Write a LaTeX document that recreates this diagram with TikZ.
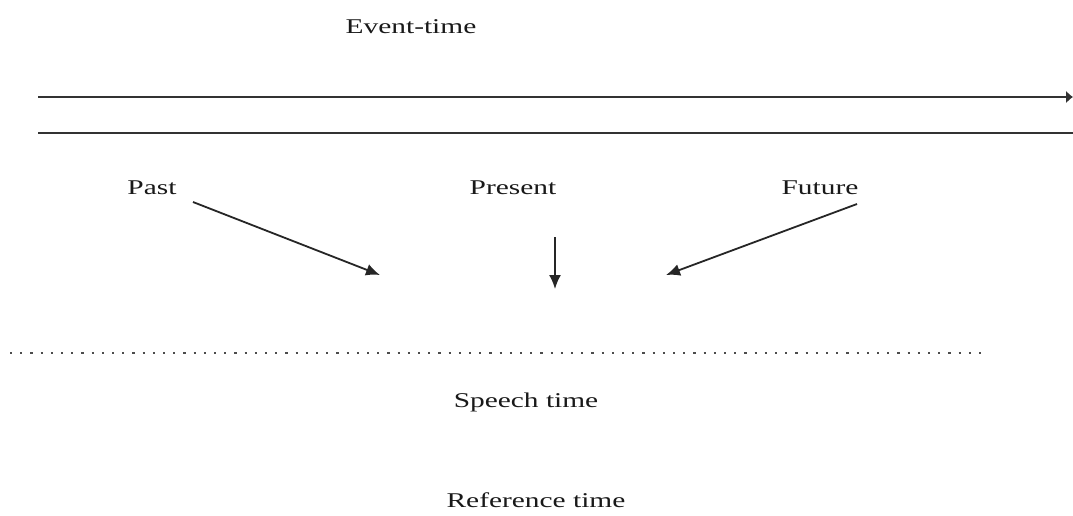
\documentclass[tikz,border=0pt]{standalone}
\usepackage{fontspec}
\setmainfont{Liberation Serif}
\usetikzlibrary{arrows.meta}
\newcommand{\wide}[1]{\scalebox{1.4}[1]{#1}}
\tikzset{
  lbl/.style={inner sep=0pt, font=\fontsize{21}{25}\selectfont, text=black!90},
  ln/.style={line width=1.6pt, black!80},
  arr/.style={line width=1.8pt, black!85, -{Latex[length=14pt,width=12pt]}},
}
\begin{document}
\begin{tikzpicture}[x=1pt,y=-1pt]
\useasboundingbox (0,0) rectangle (1073,515);
\fill[white] (0,0) rectangle (1073,515);
\node[lbl] (event) at (411,27) {\wide{Event-time}};
\coordinate (l1a) at (38,97);
\coordinate (l1b) at (1073,97);
\draw[ln, -{Latex[length=7pt,width=13pt]}] (l1a) -- (l1b);
\coordinate (l2a) at (38,133);
\coordinate (l2b) at (1073,133);
\draw[ln] (l2a) -- (l2b);
\node[lbl] (past) at (152,188) {\wide{Past}};
\node[lbl] (present) at (513,188) {\wide{Present}};
\node[lbl] (future) at (820,188) {\wide{Future}};
\coordinate (pa) at (193,202);
\coordinate (pb) at (380,275);
\coordinate (pra) at (555,237);
\coordinate (prb) at (555,289);
\coordinate (fa) at (857,204);
\coordinate (fb) at (666,275);
\draw[arr] (pa) -- (pb);
\draw[arr] (pra) -- (prb);
\draw[arr] (fa) -- (fb);
\coordinate (da) at (10,353);
\coordinate (db) at (985,353);
\draw[line width=2.2pt, black!70, dash pattern=on 2.2pt off 8pt] (da) -- (db);
\node[lbl] (speech) at (526,402) {\wide{Speech time}};
\node[lbl] (ref) at (536,500) {\wide{Reference time}};
\end{tikzpicture}
\end{document}
